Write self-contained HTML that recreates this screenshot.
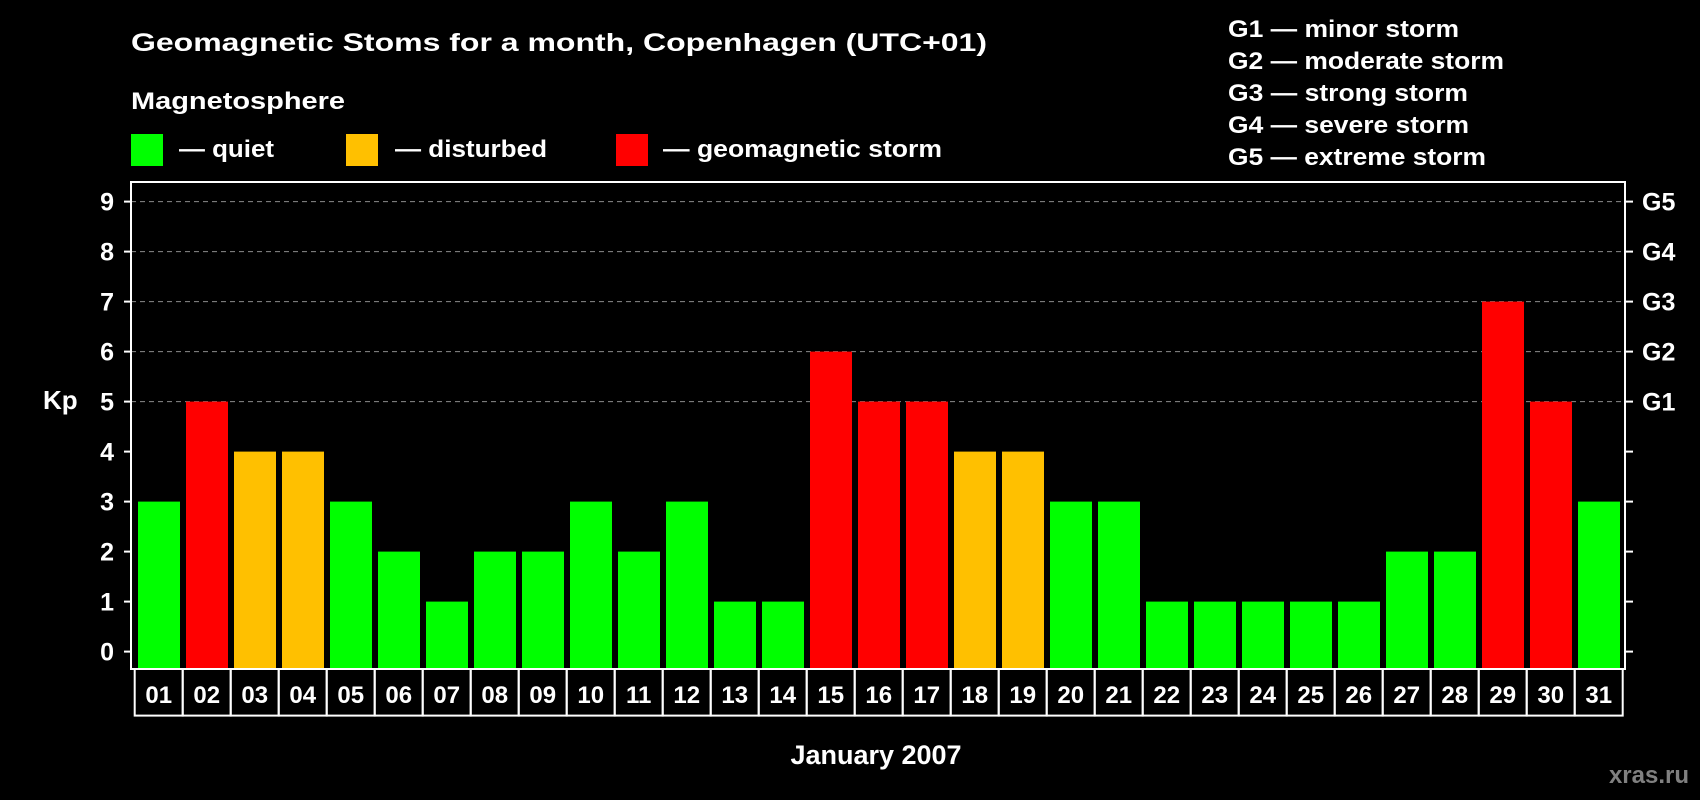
<!DOCTYPE html>
<html><head><meta charset="utf-8"><style>
html,body{margin:0;padding:0;background:#000;}
svg{display:block;font-family:"Liberation Sans",sans-serif;font-weight:bold;}
</style></head><body>
<svg id="chart" width="1700" height="800" viewBox="0 0 1700 800" xmlns="http://www.w3.org/2000/svg">
<rect width="1700" height="800" fill="#000"/>
<text x="131" y="51" fill="#fff" font-size="25" textLength="856" lengthAdjust="spacingAndGlyphs">Geomagnetic Stoms for a month, Copenhagen (UTC+01)</text>
<text x="131" y="109" fill="#fff" font-size="24" textLength="214" lengthAdjust="spacingAndGlyphs">Magnetosphere</text>
<g><rect x="131" y="134" width="32" height="32" fill="#00ff00"/><text x="179" y="157" fill="#fff" font-size="24" textLength="95" lengthAdjust="spacingAndGlyphs">— quiet</text></g>
<g><rect x="346" y="134" width="32" height="32" fill="#ffc000"/><text x="395" y="157" fill="#fff" font-size="24" textLength="152" lengthAdjust="spacingAndGlyphs">— disturbed</text></g>
<g><rect x="616" y="134" width="32" height="32" fill="#ff0000"/><text x="663" y="157" fill="#fff" font-size="24" textLength="279" lengthAdjust="spacingAndGlyphs">— geomagnetic storm</text></g>
<g fill="#fff" font-size="24">
<text x="1228" y="37" textLength="231" lengthAdjust="spacingAndGlyphs">G1 — minor storm</text>
<text x="1228" y="69" textLength="276" lengthAdjust="spacingAndGlyphs">G2 — moderate storm</text>
<text x="1228" y="101" textLength="240" lengthAdjust="spacingAndGlyphs">G3 — strong storm</text>
<text x="1228" y="133" textLength="241" lengthAdjust="spacingAndGlyphs">G4 — severe storm</text>
<text x="1228" y="165" textLength="258" lengthAdjust="spacingAndGlyphs">G5 — extreme storm</text>
</g>
<text x="43" y="409" fill="#fff" font-size="26">Kp</text>
<text x="876" y="764" fill="#fff" font-size="27" text-anchor="middle">January 2007</text>
<text x="1689" y="783" fill="#808080" font-size="24" text-anchor="end">xras.ru</text>
<g id="plot"></g>
</svg>
<script>
const days = ["01","02","03","04","05","06","07","08","09","10","11","12","13","14","15","16","17","18","19","20","21","22","23","24","25","26","27","28","29","30","31"];
const kpValues = [3,5,4,4,3,2,1,2,2,3,2,3,1,1,6,5,5,4,4,3,3,1,1,1,1,1,2,2,7,5,3];
const yTicks = [0,1,2,3,4,5,6,7,8,9];
const gLabels = ["G1","G2","G3","G4","G5"];
const gLevels = [5,6,7,8,9];

const NS = "http://www.w3.org/2000/svg";
const plot = document.getElementById('plot');
const L = 131, R = 1625, T = 182, B = 669;
const y = v => 651.6 - v * 50;
const step = 48, x0 = 134.7;
const bx = i => x0 + i * step;
function mk(tag, attrs, parent) {
  const e = document.createElementNS(NS, tag);
  for (const k in attrs) e.setAttribute(k, attrs[k]);
  (parent || plot).appendChild(e);
  return e;
}
function color(v){ return v >= 5 ? "#ff0000" : (v >= 4 ? "#ffc000" : "#00ff00"); }

// grid lines
gLevels.forEach(v => {
  const g = mk('line', {x1: L, x2: R, y1: y(v), y2: y(v), stroke: "#8c8c8c", "stroke-width": 1, "stroke-dasharray": "5,4"});
  
  
});
// bars
kpValues.forEach((v, i) => {
  const r = mk('rect', {x: bx(i) + 3.3, y: y(v), width: 42, height: B - y(v) - 1, fill: color(v)});
  
  
});
// frame
const fr = mk('rect', {x: L, y: T, width: R - L, height: B - T, fill: "none", stroke: "#fff", "stroke-width": 2});


// y ticks
yTicks.forEach(v => {
  mk('line', {x1: L - 7, x2: L, y1: y(v), y2: y(v), stroke: "#fff", "stroke-width": 2});
  mk('line', {x1: R, x2: R + 8, y1: y(v), y2: y(v), stroke: "#fff", "stroke-width": 2});
  const t = mk('text', {x: 114, y: y(v) + 9, fill: "#fff", "font-size": 25, "text-anchor": "end"});
  t.textContent = v;
  
  
});
gLabels.forEach((g, i) => {
  const t = mk('text', {x: 1642, y: y(gLevels[i]) + 9, fill: "#fff", "font-size": 25});
  t.textContent = g;
  
  
});
// day label cells
days.forEach((d, i) => {
  const c = mk('rect', {x: bx(i), y: B, width: step, height: 46.6, fill: "none", stroke: "#fff", "stroke-width": 2});
  
  
  const t = mk('text', {x: bx(i) + step / 2, y: 703, fill: "#fff", "font-size": 24, "text-anchor": "middle"});
  t.textContent = d;
  
  
});
</script>
</body></html>
